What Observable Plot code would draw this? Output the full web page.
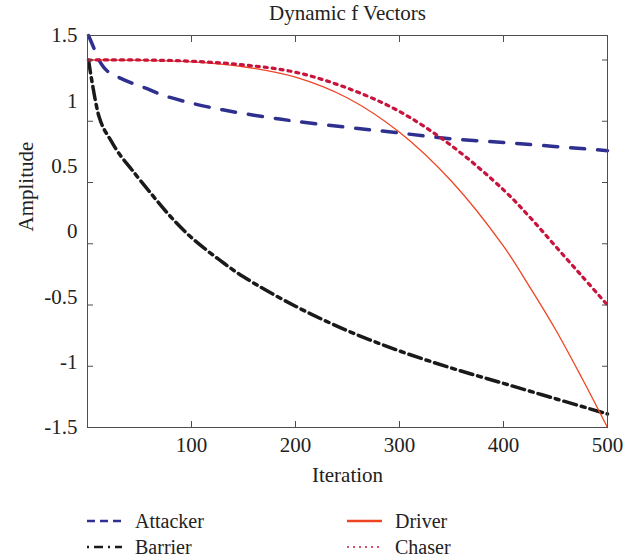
<!DOCTYPE html>
<html><head><meta charset="utf-8">
<script src="https://cdn.jsdelivr.net/npm/d3@7"></script>
<script src="https://cdn.jsdelivr.net/npm/@observablehq/plot@0.6"></script>
<style>
body{margin:0;background:#fff;}
#chart svg{display:block;}
#legend{position:relative;width:640px;height:64px;font-family:'Liberation Serif',serif;font-size:20px;color:#222;overflow:hidden;}
.item{position:absolute;display:flex;align-items:center;height:22px;}
.item span{margin-left:13px;line-height:20px;}
</style></head><body>
<div id="chart"></div>
<div id="legend"></div>
<script>
// ---- data ----
const titleText = "Dynamic f Vectors";
const xLabel = "Iteration";
const yLabel = "Amplitude";
const xTicks = [100, 200, 300, 400, 500];
const yTicks = [-1.5, -1, -0.5, 0, 0.5, 1, 1.5];
const yTickLabels = ["-1.5", "-1", "-0.5", "0", "0.5", "1", "1.5"];
const xDomain = [0, 500];
const yDomain = [-1.5, 1.7];

const iterAttacker = [1, 6, 11, 19, 32, 43, 56, 70, 94, 120, 145, 175, 200, 250, 294, 346, 410, 500];
const attacker     = [1.70, 1.60, 1.50, 1.41, 1.35, 1.31, 1.27, 1.22, 1.16, 1.11, 1.07, 1.03, 1.00, 0.95, 0.91, 0.86, 0.82, 0.76];

const iterBarrier = [1, 3, 5, 8, 11, 15, 22, 30, 43, 63, 80, 100, 125, 150, 200, 250, 300, 350, 400, 450, 500];
const barrier     = [1.50, 1.39, 1.29, 1.15, 1.04, 0.95, 0.85, 0.74, 0.60, 0.39, 0.22, 0.05, -0.12, -0.27, -0.51, -0.71, -0.875, -1.015, -1.14, -1.265, -1.39];

const iterDriver = [1, 50, 100, 150, 200, 250, 300, 350, 400, 425, 450, 475, 500];
const driver     = [1.50, 1.498, 1.485, 1.445, 1.36, 1.19, 0.91, 0.51, -0.02, -0.35, -0.70, -1.09, -1.50];

const iterChaser = [1, 50, 100, 150, 200, 250, 300, 350, 400, 425, 450, 475, 500];
const chaser     = [1.50, 1.50, 1.49, 1.46, 1.40, 1.27, 1.08, 0.80, 0.44, 0.22, -0.02, -0.26, -0.50];

const seriesNames = ["Attacker", "Barrier", "Driver", "Chaser"];

// ---- styles ----
const styles = {
  Attacker: {stroke: "#2e2f8f", width: 3.5, dash: "14,13", lw: 2.4, ldash: "8,5"},
  Barrier:  {stroke: "#1a1a1a", width: 3.5, dash: "13,5,4,5", lw: 2.6, ldash: "2,5,9,5"},
  Driver:   {stroke: "#ef4423", width: 1.3, dash: null, lw: 2.6, ldash: null},
  Chaser:   {stroke: "#c8143c", width: 3.2, dash: "3,5", lw: 1.6, ldash: "2,4"}
};

const seriesData = {
  Attacker: [iterAttacker, attacker],
  Barrier: [iterBarrier, barrier],
  Driver: [iterDriver, driver],
  Chaser: [iterChaser, chaser]
};
const rows = seriesNames.flatMap(name => seriesData[name][0].map((t, i) => ({series: name, t, v: seriesData[name][1][i]})));
const yLabelPos = yTickLabels.map((label, i) => ({label, y: yDomain[0] + i * (yDomain[1] - yDomain[0]) / (yTickLabels.length - 1)}));

const axisColor = "#4d4d4d";
const textColor = "#222";

const chart = Plot.plot({
  width: 640, height: 495,
  marginLeft: 87, marginRight: 33, marginTop: 35, marginBottom: 68,
  x: {domain: xDomain},
  y: {domain: yDomain},
  style: {fontFamily: "'Liberation Serif', serif", fontSize: "21px", color: textColor, background: "#fff"},
  marks: [
    ...seriesNames.map(name => Plot.line(rows.filter(r => r.series === name), {
      x: "t", y: "v", stroke: styles[name].stroke, strokeWidth: styles[name].width,
      strokeDasharray: styles[name].dash, curve: "catmull-rom"
    })),
    Plot.frame({stroke: axisColor, strokeWidth: 1}),
    Plot.axisX(xTicks, {anchor: "bottom", tickSize: -6, tickFormat: () => "", stroke: axisColor, label: null}),
    Plot.axisX(xTicks, {anchor: "top", tickSize: -6, tickFormat: () => "", stroke: axisColor, label: null}),
    Plot.axisY(yTicks, {anchor: "left", tickSize: -6, tickFormat: () => "", stroke: axisColor, label: null}),
    Plot.axisY(yTicks, {anchor: "right", tickSize: -6, tickFormat: () => "", stroke: axisColor, label: null}),
    Plot.axisX(xTicks, {anchor: "bottom", tickSize: 0, tickPadding: 10, tickFormat: d => String(d), fill: textColor, label: null}),
    Plot.text(yLabelPos, {y: "y", text: "label", frameAnchor: "left", textAnchor: "end", dx: -10, lineAnchor: "middle", fill: textColor}),
    Plot.text([titleText], {text: d => d, frameAnchor: "top", dy: -22, lineAnchor: "middle", fill: textColor}),
    Plot.text([xLabel], {text: d => d, frameAnchor: "bottom", dy: 40, lineAnchor: "top", fill: textColor}),
    Plot.text([yLabel], {text: d => d, frameAnchor: "left", dx: -61, rotate: -90, lineAnchor: "middle", fill: textColor})
  ]
});
document.getElementById("chart").append(chart);

// ---- legend ----
const legendOrder = ["Attacker", "Driver", "Barrier", "Chaser"];
const legend = d3.select("#legend");
legendOrder.forEach((name, i) => {
  const col = i % 2, row = Math.floor(i / 2);
  const item = legend.append("div").attr("class", "item")
    .style("left", (87 + col * 260) + "px")
    .style("top", (15 + row * 26) + "px");
  const svg = item.append("svg").attr("width", 35).attr("height", 10);
  svg.append("line").attr("x1", 0).attr("x2", 35).attr("y1", 5).attr("y2", 5)
    .attr("stroke", styles[name].stroke).attr("stroke-width", styles[name].lw)
    .attr("stroke-dasharray", styles[name].ldash);
  item.append("span").text(name);
});
</script>
</body></html>
